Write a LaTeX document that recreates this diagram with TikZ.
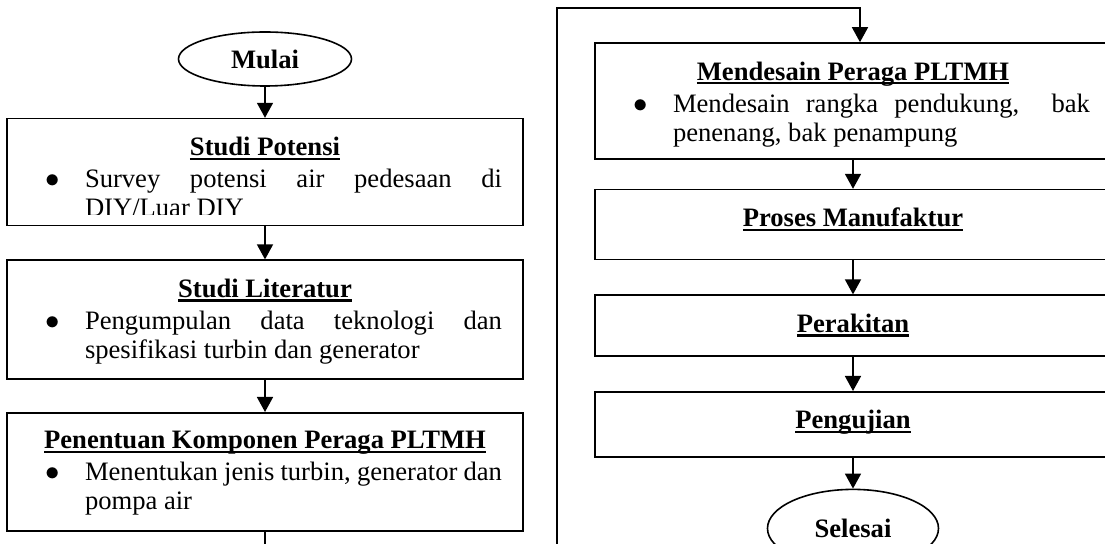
\documentclass[tikz,border=0pt]{standalone}
\usepackage{fontspec}
\setmainfont{Liberation Serif}
\usetikzlibrary{shapes,arrows.meta,positioning,calc}
\hbadness=10000
\newsavebox{\kotakgaris}
\newcommand{\garis}[1]{\sbox{\kotakgaris}{#1}\rlap{\rule[-2.2pt]{\wd\kotakgaris}{1.2pt}}\usebox{\kotakgaris}}
\newcommand{\ukuran}{\fontsize{13.3}{14.5}\selectfont}
\newcommand{\judul}[1]{{\centering\bfseries\garis{#1}\par}}
\newcommand{\butir}[1]{{\vspace{1.5pt}\leftskip=28.5pt\rightskip=0pt\parfillskip=0pt plus 1fil\noindent\llap{$\bullet$\hspace{12.7pt}}#1\par}}

\begin{document}
\begin{tikzpicture}[x=0.5pt, y=-0.5pt, font=\ukuran,
    kotak/.style={rectangle, draw, line width=0.8pt, minimum width=258pt, inner sep=0pt},
    terminal/.style={ellipse, draw, line width=0.8pt, inner sep=0pt, font=\ukuran\bfseries},
    isi/.style={text width=237pt, align=justify, inner sep=0pt},
    panah/.style={-{Triangle[length=7.5pt, width=8pt]}, line width=0.8pt}]
  \useasboundingbox (0,0) rectangle (1105,544);

  % Kolom kiri
  \node[terminal, minimum width=86.5pt, minimum height=27pt] (mulai) at (265,59) {Mulai};
  \node[kotak, minimum height=53.5pt, below=15.5pt of mulai] (sp) {};
  \node[kotak, minimum height=59.5pt, below=16.5pt of sp] (sl) {};
  \node[kotak, minimum height=59pt, below=16pt of sl] (pk) {};

  \begin{scope}
    \clip ($(sp.south west)+(0,6pt)$) rectangle (sp.north east);
    \node[isi, below=9.5pt of sp.north] (tsp) {\judul{Studi Potensi}\butir{Survey potensi air pedesaan di\linebreak DIY/Luar DIY}};
  \end{scope}
  \node[isi, below=9.5pt of sl.north] (tsl) {\judul{Studi Literatur}\butir{Pengumpulan data teknologi dan\linebreak spesifikasi turbin dan generator}};
  \node[isi, below=9.5pt of pk.north] (tpk) {\judul{Penentuan Komponen Peraga PLTMH}\butir{Menentukan jenis turbin, generator dan\linebreak pompa air}};

  \draw[panah] (mulai) -- (sp);
  \draw[panah] (sp) -- (sl);
  \draw[panah] (sl) -- (pk);
  \coordinate (lbawah) at (pk.south |- 0,544);
  \draw[line width=0.8pt] (pk.south) -- (lbawah);

  % Kolom kanan
  \node[kotak, minimum height=58pt] (md) at (853,101) {};
  \node[kotak, minimum height=35pt, below=14.5pt of md] (pm) {};
  \node[kotak, minimum height=30.5pt, below=17pt of pm] (pr) {};
  \node[kotak, minimum height=32.5pt, below=17pt of pr] (pu) {};
  \node[terminal, minimum width=85.5pt, minimum height=39pt, below=15.5pt of pu] (selesai) {Selesai};

  \node[isi, below=9.5pt of md.north] (tmd) {\judul{Mendesain Peraga PLTMH}\butir{Mendesain rangka pendukung,\ \ bak\linebreak penenang, bak penampung}};
  \node[isi, below=9.5pt of pm.north] (tpm) {\judul{Proses Manufaktur}};
  \node[isi, below=9.5pt of pr.north] (tpr) {\judul{Perakitan}};
  \node[isi, below=9.5pt of pu.north] (tpu) {\judul{Pengujian}};

  \coordinate (rbawah) at (557,544);
  \coordinate (atas) at (860,8);
  \draw[panah] (rbawah) |- (atas) -- (atas |- md.north);
  \draw[panah] (md) -- (pm);
  \draw[panah] (pm) -- (pr);
  \draw[panah] (pr) -- (pu);
  \draw[panah] (pu) -- (selesai);
\end{tikzpicture}
\end{document}
